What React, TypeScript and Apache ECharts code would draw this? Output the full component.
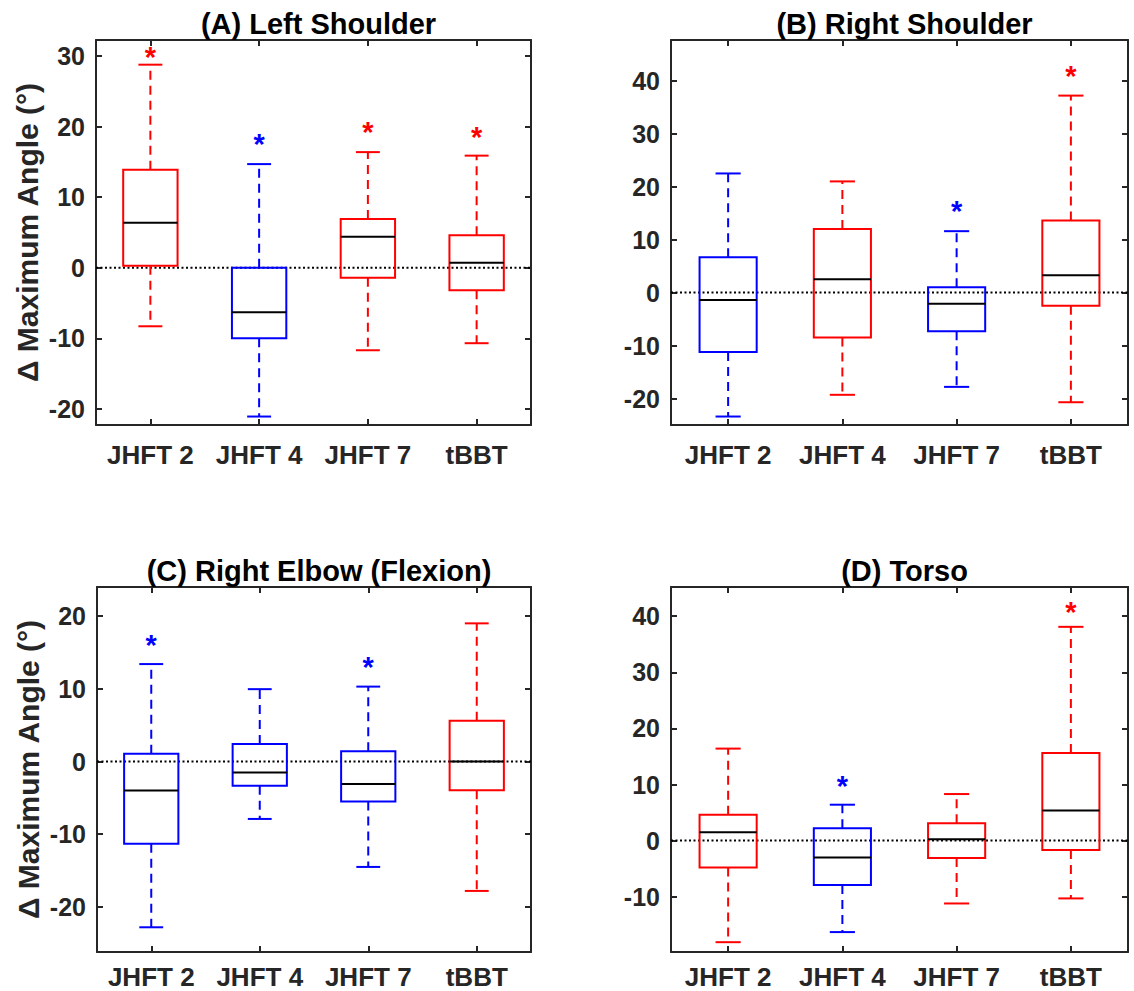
import React, { useEffect, useRef } from 'react';
import * as echarts from 'echarts';

// ---------- data ----------
const categories = ['JHFT 2', 'JHFT 4', 'JHFT 7', 'tBBT'];
const yLabelText = '\u0394 Maximum Angle (\u00B0)';
const RED = '#FF0000';
const BLUE = '#0000FF';

// (A) Left Shoulder
const titleA = '(A) Left Shoulder';
const lowA = [-8.3, -21.1, -11.7, -10.7];
const q1A = [0.3, -10.0, -1.4, -3.2];
const medA = [6.4, -6.3, 4.4, 0.7];
const q3A = [13.9, 0.0, 6.9, 4.6];
const highA = [28.8, 14.7, 16.4, 15.9];
const colorsA = [RED, BLUE, RED, RED];
const starsA = [30.6, 18.3, 20.0, 19.2];
const ticksA = [-20, -10, 0, 10, 20, 30];
const rangeA = [-22.3, 32.3];

// (B) Right Shoulder
const titleB = '(B) Right Shoulder';
const lowB = [-23.4, -19.3, -17.8, -20.7];
const q1B = [-11.2, -8.5, -7.3, -2.5];
const medB = [-1.4, 2.5, -2.1, 3.3];
const q3B = [6.7, 12.0, 1.0, 13.6];
const highB = [22.5, 21.0, 11.6, 37.2];
const colorsB = [BLUE, RED, BLUE, RED];
const starsB = [null, null, 16.4, 41.9];
const ticksB = [-20, -10, 0, 10, 20, 30, 40];
const rangeB = [-25.0, 47.7];

// (C) Right Elbow (Flexion)
const titleC = '(C) Right Elbow (Flexion)';
const lowC = [-22.8, -7.9, -14.5, -17.8];
const q1C = [-11.3, -3.35, -5.5, -3.95];
const medC = [-4.0, -1.5, -3.1, 0.0];
const q3C = [1.05, 2.4, 1.4, 5.6];
const highC = [13.4, 9.95, 10.3, 19.0];
const colorsC = [BLUE, BLUE, BLUE, RED];
const starsC = [16.7, null, 13.7, null];
const ticksC = [-20, -10, 0, 10, 20];
const rangeC = [-26.2, 24.0];

// (D) Torso
const titleD = '(D) Torso';
const lowD = [-18.1, -16.3, -11.2, -10.3];
const q1D = [-4.8, -7.9, -3.1, -1.65];
const medD = [1.5, -3.0, 0.25, 5.35];
const q3D = [4.6, 2.2, 3.1, 15.6];
const highD = [16.4, 6.4, 8.3, 38.1];
const colorsD = [RED, BLUE, RED, RED];
const starsD = [null, 10.7, null, 41.7];
const ticksD = [-10, 0, 10, 20, 30, 40];
const rangeD = [-19.85, 45.2];

// ---------- layout ----------
const FONT = '"Liberation Sans", Arial, Helvetica, sans-serif';
const AXIS_COLOR = '#262626';
const grids = [
  { left: 96, top: 40, width: 435, height: 385 },
  { left: 671, top: 40, width: 457, height: 385 },
  { left: 97, top: 587, width: 434, height: 365 },
  { left: 671, top: 587, width: 457, height: 365 },
];
const titleTops = [4, 4, 551, 551];
const xLabelMargins = [17, 17, 12, 12];

const panels = [
  { title: titleA, low: lowA, q1: q1A, med: medA, q3: q3A, high: highA, colors: colorsA, stars: starsA, ticks: ticksA, range: rangeA, yName: true },
  { title: titleB, low: lowB, q1: q1B, med: medB, q3: q3B, high: highB, colors: colorsB, stars: starsB, ticks: ticksB, range: rangeB, yName: false },
  { title: titleC, low: lowC, q1: q1C, med: medC, q3: q3C, high: highC, colors: colorsC, stars: starsC, ticks: ticksC, range: rangeC, yName: true },
  { title: titleD, low: lowD, q1: q1D, med: medD, q3: q3D, high: highD, colors: colorsD, stars: starsD, ticks: ticksD, range: rangeD, yName: false },
];

function makeRenderItem(colors: string[], stars: (number | null)[]) {
  return (params: any, api: any) => {
    const idx = params.dataIndex;
    const i = api.value(0);
    const band = api.size([1, 0])[0];
    const cx = api.coord([i, 0])[0];
    const yLow = api.coord([i, api.value(1)])[1];
    const yQ1 = api.coord([i, api.value(2)])[1];
    const yMed = api.coord([i, api.value(3)])[1];
    const yQ3 = api.coord([i, api.value(4)])[1];
    const yHigh = api.coord([i, api.value(5)])[1];
    const boxW = band * 0.5;
    const capW = band * 0.22;
    const col = colors[idx];
    const children: any[] = [];
    if (idx === 0) {
      const cs = params.coordSys;
      const y0 = api.coord([i, 0])[1];
      children.push({
        type: 'line',
        shape: { x1: cs.x, y1: y0, x2: cs.x + cs.width, y2: y0 },
        style: { stroke: '#000', lineWidth: 2, lineDash: [2, 2.5] },
      });
    }
    children.push(
      { type: 'line', shape: { x1: cx, y1: yQ3, x2: cx, y2: yHigh }, style: { stroke: col, lineWidth: 2, lineDash: [9, 6] } },
      { type: 'line', shape: { x1: cx, y1: yQ1, x2: cx, y2: yLow }, style: { stroke: col, lineWidth: 2, lineDash: [9, 6] } },
      { type: 'line', shape: { x1: cx - capW / 2, y1: yHigh, x2: cx + capW / 2, y2: yHigh }, style: { stroke: col, lineWidth: 2 } },
      { type: 'line', shape: { x1: cx - capW / 2, y1: yLow, x2: cx + capW / 2, y2: yLow }, style: { stroke: col, lineWidth: 2 } },
      { type: 'rect', shape: { x: cx - boxW / 2, y: yQ3, width: boxW, height: yQ1 - yQ3 }, style: { fill: 'none', stroke: col, lineWidth: 2 } },
      { type: 'line', shape: { x1: cx - boxW / 2, y1: yMed, x2: cx + boxW / 2, y2: yMed }, style: { stroke: '#000', lineWidth: 2 } },
    );
    const s = stars[idx];
    if (s !== null && s !== undefined) {
      const ys = api.coord([i, s])[1];
      children.push({
        type: 'text',
        style: {
          text: '*', x: cx, y: ys + 5, fill: col, align: 'center', verticalAlign: 'middle',
          fontSize: 29, fontWeight: 'bold', fontFamily: FONT,
        },
      });
    }
    return { type: 'group', children };
  };
}

function buildOption() {
  const xAxis: any[] = [];
  const yAxis: any[] = [];
  const series: any[] = [];
  const title: any[] = [];
  panels.forEach((p, g) => {
    const gr = grids[g];
    title.push({
      text: p.title,
      left: gr.left + gr.width / 2,
      top: titleTops[g],
      textAlign: 'center',
      textStyle: { fontSize: 29, fontWeight: 'bold', color: '#000', fontFamily: FONT },
    });
    const lineStyle = { color: AXIS_COLOR, width: 2 };
    xAxis.push({
      type: 'category', gridIndex: g, data: categories, position: 'bottom',
      axisLine: { show: true, onZero: false, lineStyle },
      axisTick: { show: true, inside: true, alignWithLabel: true, length: 6, lineStyle },
      axisLabel: {
        show: true, interval: 0, hideOverlap: false, fontSize: 26, lineHeight: 26, fontWeight: 'bold',
        color: AXIS_COLOR, margin: xLabelMargins[g], fontFamily: FONT,
      },
      splitLine: { show: false },
    });
    xAxis.push({
      type: 'category', gridIndex: g, data: categories, position: 'top',
      axisLine: { show: true, onZero: false, lineStyle },
      axisTick: { show: true, inside: true, alignWithLabel: true, length: 6, lineStyle },
      axisLabel: { show: false },
      splitLine: { show: false },
    });
    yAxis.push({
      type: 'value', gridIndex: g, min: p.range[0], max: p.range[1], position: 'left',
      axisLine: { show: true, onZero: false, lineStyle },
      axisTick: { show: true, inside: true, length: 6, lineStyle, customValues: p.ticks },
      axisLabel: { show: true, fontSize: 25, fontWeight: 'bold', color: AXIS_COLOR, margin: 11, fontFamily: FONT, customValues: p.ticks },
      splitLine: { show: false },
      name: p.yName ? yLabelText : '',
      nameLocation: 'middle',
      nameRotate: 90,
      nameGap: 54,
      nameTextStyle: { fontSize: 30, fontWeight: 'bold', color: AXIS_COLOR, fontFamily: FONT },
    });
    yAxis.push({
      type: 'value', gridIndex: g, min: p.range[0], max: p.range[1], position: 'right',
      axisLine: { show: true, onZero: false, lineStyle },
      axisTick: { show: true, inside: true, length: 6, lineStyle, customValues: p.ticks },
      axisLabel: { show: false },
      splitLine: { show: false },
    });
    series.push({
      type: 'custom',
      name: p.title,
      xAxisIndex: 2 * g,
      yAxisIndex: 2 * g,
      coordinateSystem: 'cartesian2d',
      clip: false,
      encode: { x: 0, y: [1, 2, 3, 4, 5] },
      data: categories.map((_, i) => [i, p.low[i], p.q1[i], p.med[i], p.q3[i], p.high[i]]),
      renderItem: makeRenderItem(p.colors, p.stars),
      silent: true,
    });
  });
  return {
    animation: false,
    backgroundColor: '#ffffff',
    title,
    grid: grids.map((gr) => ({ ...gr, containLabel: false })),
    xAxis,
    yAxis,
    series,
  };
}

export default function App() {
  const ref = useRef<HTMLDivElement>(null);
  useEffect(() => {
    document.body.style.margin = '0';
    if (!ref.current) return;
    const chart = echarts.init(ref.current, undefined, { renderer: 'svg' });
    chart.setOption(buildOption());
    return () => chart.dispose();
  }, []);
  return <div ref={ref} style={{ width: 1134, height: 991 }} />;
}
